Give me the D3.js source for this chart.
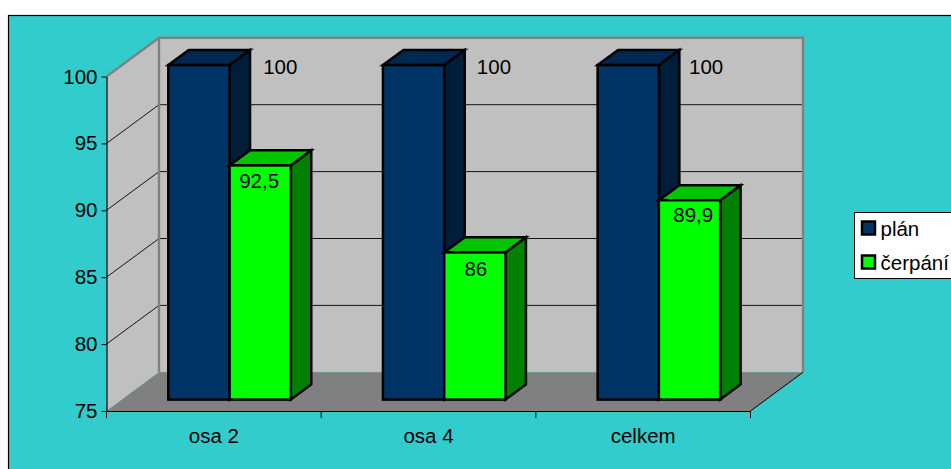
<!DOCTYPE html>
<html>
<head>
<meta charset="utf-8">
<script src="https://cdn.jsdelivr.net/npm/d3@7/dist/d3.min.js"></script>
<style>
  html, body { margin: 0; padding: 0; background: #fff; overflow: hidden; }
  text { font-family: "Liberation Sans", Arial, sans-serif; font-size: 20.5px; fill: #000; }
</style>
</head>
<body>
<svg id="chart" width="951" height="469"></svg>
<script>
// Chart values
const categories = ["osa 2", "osa 4", "celkem"];
const seriesNames = ["plán", "čerpání"];
const plan = [100, 100, 100];
const cerpani = [92.5, 86, 89.9];
const valueTicks = [75, 80, 85, 90, 95, 100];
const valueLabels = ["100", "100", "100"];
const cerpaniLabels = ["92,5", "86", "89,9"];

// Hand placement of the value labels, per category
const planLabelNudge = [0, -1, -3.5];
const cerpaniLabelNudge = [-1, 1, 3.75];
const cerpaniLabelLift = [0, 1.5, -1];

// Colours per series: front, top and side faces
const faces = [
  { front: "#003366", top: "#002851", side: "#001d3a" },
  { front: "#00ff00", top: "#00c400", side: "#008000" }
];

const svg = d3.select("#chart");

// Front plane of the 3D box
const x = d3.scaleBand().domain(categories).range([106.5, 750.5]);
const y = d3.scaleLinear().domain([75, 100]).range([411, 76.5]);
const series = d3.scaleBand().domain(seriesNames).range([0, 122.5]);

// Oblique projection: depth 0 is the front plane, depth 1 the back wall
const depthX = 52.5, depthY = -38.7;
const px = (sx, z) => sx + depthX * z;
const py = (sy, z) => sy + depthY * z;
const poly = pts => pts.map(p => p.join(",")).join(" ");

const x0 = x.range()[0], x1 = x.range()[1];
const yBase = y(75), yTop = y(100);

// Background panel
svg.append("rect").attr("x", 8.5).attr("y", 15.5).attr("width", 960).attr("height", 470)
  .attr("fill", "#33cccc").attr("stroke", "#000").attr("stroke-width", 1.2);

// Walls and floor
svg.append("polygon").attr("fill", "#c0c0c0")
  .attr("points", poly([[px(x0,1),py(yTop,1)],[px(x1,1),py(yTop,1)],[px(x1,1),py(yBase,1)],[px(x0,1),py(yBase,1)]]));
svg.append("polygon").attr("fill", "#c0c0c0")
  .attr("points", poly([[x0,yTop],[px(x0,1),py(yTop,1)],[px(x0,1),py(yBase,1)],[x0,yBase]]));
svg.append("polygon").attr("fill", "#808080")
  .attr("points", poly([[x0,yBase],[x1,yBase],[px(x1,1),py(yBase,1)],[px(x0,1),py(yBase,1)]]));

// Grid lines along the side wall and back wall
const grid = valueTicks.slice(1, -1);
svg.append("g").selectAll("polyline").data(grid).join("polyline")
  .attr("fill", "none").attr("stroke", "#000").attr("stroke-width", 0.9)
  .attr("points", d => poly([[x0,y(d)],[px(x0,1),py(y(d),1)],[px(x1,1),py(y(d),1)]]));

// Wall outline
svg.append("polyline").attr("fill", "none").attr("stroke", "#808080").attr("stroke-width", 2.4)
  .attr("points", poly([[x0,yTop],[px(x0,1),py(yTop,1)],[px(x1,1),py(yTop,1)],[px(x1,1),py(yBase,1)]]));
svg.append("line").attr("stroke", "#808080").attr("stroke-width", 2.4)
  .attr("x1", px(x0,1)).attr("x2", px(x0,1)).attr("y1", py(yTop,1)).attr("y2", py(yBase,1));

// Floor edge on the right
svg.append("line").attr("stroke", "#000").attr("stroke-width", 1)
  .attr("x1", x1).attr("y1", yBase).attr("x2", px(x1,1)).attr("y2", py(yBase,1));

// Axes
const yAxis = d3.axisLeft(y).tickValues(valueTicks).tickSize(5).tickPadding(4).tickSizeOuter(0);
svg.append("g").attr("transform", `translate(${x0},0)`).call(yAxis);
const xAxis = d3.axisBottom(x).tickSize(0).tickPadding(17);
const gx = svg.append("g").attr("transform", `translate(0,${yBase})`).call(xAxis);
gx.selectAll("line.boundary")
  .data(d3.range(categories.length + 1)).join("line").attr("class", "boundary")
  .attr("x1", i => x0 + i * x.bandwidth()).attr("x2", i => x0 + i * x.bandwidth())
  .attr("y1", 0).attr("y2", 7).attr("stroke", "#000");
svg.selectAll(".domain").attr("stroke", "#000").attr("stroke-width", 1.2);
svg.selectAll("g.tick line").attr("stroke", "#000");
svg.selectAll("text").style("font-size", "20.5px").attr("fill", "#000")
  .style("font-family", '"Liberation Sans", Arial, sans-serif');

// Bars: each occupies a slab of the floor depth
const zNear = 0.295, zFar = 0.685;
const rows = [plan, cerpani];
const barLeft = cat => x(cat) + (x.bandwidth() - 123) / 2 - depthX * (1 - 0.295 - 0.695) + 1 + depthX * zNear;
categories.forEach((cat, c) => {
  seriesNames.forEach((name, s) => {
    const v = rows[s][c];
    const a = barLeft(cat) + series(name);
    const b = a + series.bandwidth();
    const t = y(v) + depthY * zNear;
    const bot = y(75) + depthY * zNear;
    const dx = depthX * (zFar - zNear), dy = depthY * (zFar - zNear);
    const g = svg.append("g").attr("stroke", "#000").attr("stroke-width", 2.5).attr("stroke-linejoin", "miter");
    g.append("polygon").attr("fill", faces[s].side)
      .attr("points", poly([[b,t],[b+dx,t+dy],[b+dx,bot+dy],[b,bot]]));
    g.append("polygon").attr("fill", faces[s].top)
      .attr("points", poly([[a,t],[a+dx,t+dy],[b+dx,t+dy],[b,t]]));
    g.append("rect").attr("x", a).attr("y", t).attr("width", b - a).attr("height", bot - t)
      .attr("fill", faces[s].front);
  });
});

// Value labels: plan sits beyond the bar's depth, čerpání inside the front face
categories.forEach((cat, c) => {
  const left = barLeft(cat);
  svg.append("text").attr("text-anchor", "middle")
    .attr("x", left + series(seriesNames[0]) + 112 + planLabelNudge[c])
    .attr("y", y(plan[c]) + depthY * zNear + 8.5)
    .text(valueLabels[c]);
  svg.append("text").attr("text-anchor", "middle")
    .attr("x", left + series(seriesNames[1]) + series.bandwidth() / 2 + cerpaniLabelNudge[c])
    .attr("y", y(cerpani[c]) + depthY * zNear + 22.5 + cerpaniLabelLift[c])
    .text(cerpaniLabels[c]);
});

// Legend
const legend = svg.append("g").attr("transform", "translate(854.5,212.5)");
legend.append("rect").attr("width", 120).attr("height", 66)
  .attr("fill", "#fff").attr("stroke", "#000").attr("stroke-width", 1);
seriesNames.forEach((name, s) => {
  const row = legend.append("g").attr("transform", `translate(7.5,${9 + s * 34})`);
  row.append("rect").attr("width", 13).attr("height", 13)
    .attr("fill", faces[s].front).attr("stroke", "#000").attr("stroke-width", 2.5);
  row.append("text").attr("x", 18.5).attr("y", 14).text(name);
});
</script>
</body>
</html>
